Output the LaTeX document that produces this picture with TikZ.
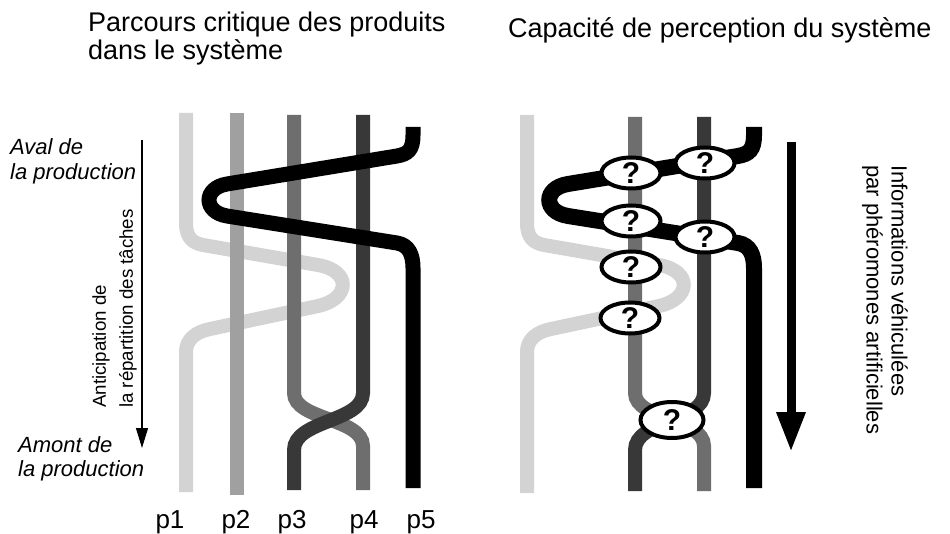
\documentclass[tikz,border=0pt]{standalone}
\usepackage{fontspec}
\setmainfont{Liberation Sans}
\usetikzlibrary{arrows.meta}
\usetikzlibrary{shapes.geometric}

\definecolor{gris1}{RGB}{211,211,211}
\definecolor{gris2}{RGB}{160,160,160}
\definecolor{gris3}{RGB}{110,110,110}
\definecolor{gris4}{RGB}{56,56,56}

\tikzset{
  flux/.style={line width=14pt},
  fluxnoir/.style={line width=15pt, black},
  bulle/.style={ellipse, draw, line width=4pt, fill=white, inner sep=0pt,
    minimum width=59pt, minimum height=31pt,
    font=\fontsize{30}{30}\selectfont\bfseries},
}

\begin{document}
\begin{tikzpicture}[x=1pt,y=-1pt]
        \fill [white] (0,0) rectangle (950,534);
        \useasboundingbox (0,0) rectangle (950,534);
        %
        % parcours des produits
        \draw [flux, gris1] (186,113) -- (186,223) .. controls (186,238) and (193,243) .. (203,245)
        -- (318,265) .. controls (352,271) and (350,299) .. (318,306)
        -- (210,329) .. controls (195,332) and (186,340) .. (186,352) -- (186,492);
        \draw [flux, gris2] (237,113) -- (237,495);
        \draw [flux, gris3] (294,115) -- (294,393) .. controls (294,420) and (363,418) .. (363,446) -- (363,490);
        \draw [flux, gris4] (363,115) -- (363,393) .. controls (363,422) and (294,420) .. (294,450) -- (294,490);
        \draw [fluxnoir] (413,127) -- (413,135) .. controls (413,150) and (408,154) .. (397,156)
        -- (227,184) .. controls (203,188) and (203,212) .. (227,216)
        -- (397,243) .. controls (409,245) and (413,255) .. (413,268) -- (413,488);
        %
        % perception du systeme
        \begin{scope}[xshift=341pt]
        \draw [flux, gris1] (186,115) -- (186,223) .. controls (186,238) and (193,243) .. (203,245)
        -- (318,265) .. controls (352,271) and (350,299) .. (318,306)
        -- (210,329) .. controls (195,332) and (186,340) .. (186,352) -- (186,493);
        \draw [flux, gris3] (294,117) -- (294,393) .. controls (294,420) and (363,418) .. (363,446) -- (363,491);
        \draw [flux, gris4] (363,117) -- (363,393) .. controls (363,422) and (294,420) .. (294,450) -- (294,491);
        \draw [fluxnoir, line width=16pt] (413,127) -- (413,135) .. controls (413,150) and (408,154) .. (397,156)
        -- (227,184) .. controls (202,188) and (202,212) .. (227,216)
        -- (397,243) .. controls (409,245) and (413,255) .. (413,268) -- (413,488);
        \end{scope}
        %
        \foreach \n/\x/\y in {1/631/173, 2/705/163, 3/631/221, 4/705/237, 5/631/267, 6/630/318}
          \node (q\n) [bulle] at (\x,\y) {?};
        \node (q7) [bulle, minimum width=63pt, minimum height=36pt] at (672,420) {?};
        %
        % fleches
        \coordinate (fh) at (142,140);
        \coordinate (fb) at (142,448);
        \draw [line width=1.3pt, -{Triangle[width=12pt,length=20pt]}] (fh) -- (fb);
        \coordinate (ph) at (791,142);
        \coordinate (pb) at (791,452);
        \draw [line width=9pt, -{Triangle[width=27pt,length=40pt]}] (ph) -- (pb);
        %
        % textes
        \node (titreg) [anchor=north west, align=left, inner sep=0pt, font=\fontsize{27}{28}\selectfont]
          at (88,12) {Parcours critique des produits\\dans le système};
        \node (titred) [anchor=base west, inner sep=0pt, font=\fontsize{27}{28}\selectfont]
          at (508,38) {Capacité de perception du système};
        \node (aval) [anchor=north west, align=left, inner sep=0pt, font=\fontsize{22}{25}\selectfont\itshape]
          at (10,138) {Aval de\\la production};
        \node (amont) [anchor=north west, align=left, inner sep=0pt, font=\fontsize{22}{24}\selectfont\itshape]
          at (18,436) {Amont de\\la production};
        \node (anticip) [rotate=90, anchor=north west, align=left, inner sep=0pt, font=\fontsize{18.7}{27}\selectfont]
          at (92,408) {Anticipation de\\la répartition des tâches};
        \node (infos) [rotate=-90, anchor=north west, align=left, inner sep=0pt, font=\fontsize{22}{25}\selectfont]
          at (908,165) {Informations véhiculées\\par phéromones artificielles};
        \foreach \n/\x in {1/170, 2/236, 3/292, 4/364, 5/421}
          \node (lp\n) [anchor=base, font=\fontsize{26}{26}\selectfont] at (\x,528) {p\n};
      \end{tikzpicture}
\end{document}
